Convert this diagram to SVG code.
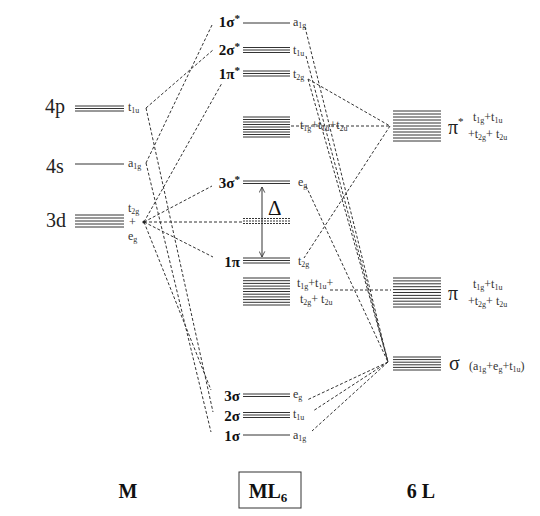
<svg xmlns="http://www.w3.org/2000/svg" width="540" height="516" viewBox="0 0 540 516">
<defs>
<style>
.lv{stroke:#333;stroke-width:1;fill:none}
.dl{stroke:#333;stroke-width:1;fill:none;stroke-dasharray:3,2}
.sm{font-family:"Liberation Serif",serif;font-size:12px;fill:#333}
.sb{font-size:8px}
.bl{font-family:"Liberation Serif",serif;font-size:15px;font-weight:bold;fill:#111;text-anchor:end}
.big{font-family:"Liberation Serif",serif;font-size:20px;fill:#222}
.ttl{font-family:"Liberation Serif",serif;font-size:20px;font-weight:bold;fill:#111;text-anchor:middle}
</style>
<marker id="ah" viewBox="0 0 10 10" refX="9" refY="5" markerWidth="7" markerHeight="7" orient="auto-start-reverse">
<path d="M1,1 L9,5 L1,9" fill="none" stroke="#333" stroke-width="1.2"/>
</marker>
</defs>
<rect width="540" height="516" fill="#fff"/>

<g id="connectors">
<path class="dl" d="M146,108 L213,50"/>
<path class="dl" d="M146,163 L212,25"/>
<path class="dl" d="M144,222 L222,83"/>
<path class="dl" d="M144,222 L212,186"/>
<path class="dl" d="M144,222 L243,222"/>
<path class="dl" d="M144,222 L213,257"/>
<path class="dl" d="M146,108 L213,412"/>
<path class="dl" d="M146,163 L211,432"/>
<path class="dl" d="M144,222 L211,390"/>
<path class="dl" d="M305,27 L388,362"/>
<path class="dl" d="M306,56 L388,362"/>
<path class="dl" d="M308,79 L388,362"/>
<path class="dl" d="M308,79 L390,126"/>
<path class="dl" d="M291,126 L390,126"/>
<path class="dl" d="M306,186 L388,362"/>
<path class="dl" d="M390,126 L304,258"/>
<path class="dl" d="M330,290 L391,290"/>
<path class="dl" d="M388,362 L307,400"/>
<path class="dl" d="M388,362 L313,411"/>
<path class="dl" d="M388,362 L312,431"/>
<line x1="262" y1="187" x2="262" y2="257" stroke="#333" stroke-width="1" marker-start="url(#ah)" marker-end="url(#ah)"/>
</g>

<g id="M">
<text class="big" x="45" y="113">4p</text>
<path class="lv" d="M75,106H124M75,108.5H124M75,111H124"/>
<text class="sm" x="128" y="111">t<tspan class="sb" dy="2">1u</tspan></text>
<text class="big" x="46" y="173">4s</text>
<path class="lv" d="M75,164H124"/>
<text class="sm" x="128" y="167">a<tspan class="sb" dy="2">1g</tspan></text>
<text class="big" x="46" y="227">3d</text>
<path class="lv" d="M75,215H124M75,218H124M75,221H124M75,224H124M75,227H124"/>
<text class="sm" x="128" y="212">t<tspan class="sb" dy="2">2g</tspan></text>
<text class="sm" x="129" y="226">+</text>
<text class="sm" x="128" y="240">e<tspan class="sb" dy="2">g</tspan></text>
<circle cx="144" cy="222" r="1.6" fill="#222"/>
</g>

<g id="ML6">
<text class="bl" x="240" y="27">1σ<tspan font-size="11" dy="-5">*</tspan></text>
<path class="lv" d="M243,23H290"/>
<text class="sm" x="293" y="26">a<tspan class="sb" dy="2">1g</tspan></text>

<text class="bl" x="240" y="55">2σ<tspan font-size="11" dy="-5">*</tspan></text>
<path class="lv" d="M243,47.5H290M243,50H290M243,52.5H290"/>
<text class="sm" x="293" y="54">t<tspan class="sb" dy="2">1u</tspan></text>

<text class="bl" x="240" y="79">1π<tspan font-size="11" dy="-5">*</tspan></text>
<path class="lv" d="M243,71H290M243,73.5H290M243,76H290"/>
<text class="sm" x="293" y="78">t<tspan class="sb" dy="2">2g</tspan></text>

<path class="lv" d="M243,117H290M243,119.5H290M243,122H290M243,124.5H290M243,127H290M243,129.5H290M243,132H290M243,134.5H290M243,137H290"/>
<text class="sm" x="300" y="129">t<tspan class="sb" dy="2">1g</tspan><tspan dy="-2">+t</tspan><tspan class="sb" dy="2">1u</tspan><tspan dy="-2">+t</tspan><tspan class="sb" dy="2">2u</tspan></text>

<text class="bl" x="240" y="188">3σ<tspan font-size="11" dy="-5">*</tspan></text>
<path class="lv" d="M243,181H290M243,183.5H290"/>
<text class="sm" x="298" y="186">e<tspan class="sb" dy="2">g</tspan></text>

<path class="lv" stroke-dasharray="2,1" d="M243,218.5H290M243,221H290M243,223.5H290"/>
<text x="268" y="215" font-family="Liberation Serif, serif" font-size="21" fill="#111">Δ</text>

<text class="bl" x="240" y="267">1π</text>
<path class="lv" d="M243,258H290M243,260.5H290M243,263H290"/>
<text class="sm" x="298" y="265">t<tspan class="sb" dy="2">2g</tspan></text>

<path class="lv" d="M243,278H290M243,280.7H290M243,283.4H290M243,286.1H290M243,288.8H290M243,291.5H290M243,294.2H290M243,296.9H290M243,299.6H290M243,302.3H290M243,305H290"/>
<text class="sm" x="297" y="287">t<tspan class="sb" dy="2">1g</tspan><tspan dy="-2">+t</tspan><tspan class="sb" dy="2">1u</tspan><tspan dy="-2">+</tspan></text>
<text class="sm" x="300" y="303">t<tspan class="sb" dy="2">2g</tspan><tspan dy="-2">+ t</tspan><tspan class="sb" dy="2">2u</tspan></text>

<text class="bl" x="240" y="401">3σ</text>
<path class="lv" d="M243,394H290M243,396.5H290"/>
<text class="sm" x="293" y="398">e<tspan class="sb" dy="2">g</tspan></text>

<text class="bl" x="240" y="421">2σ</text>
<path class="lv" d="M243,412.5H290M243,415H290M243,417.5H290"/>
<text class="sm" x="293" y="418">t<tspan class="sb" dy="2">1u</tspan></text>

<text class="bl" x="240" y="441">1σ</text>
<path class="lv" d="M243,435H290"/>
<text class="sm" x="293" y="439">a<tspan class="sb" dy="2">1g</tspan></text>
</g>

<g id="L">
<path class="lv" d="M393,111H441M393,114H441M393,117H441M393,120H441M393,123H441M393,126H441M393,129H441M393,132H441M393,135H441M393,138H441M393,141H441"/>
<text class="big" x="448" y="134" font-size="21">π<tspan font-size="11" dy="-9">*</tspan></text>
<text class="sm" x="473" y="121">t<tspan class="sb" dy="2">1g</tspan><tspan dy="-2">+t</tspan><tspan class="sb" dy="2">1u</tspan></text>
<text class="sm" x="468" y="138">+t<tspan class="sb" dy="2">2g</tspan><tspan dy="-2">+ t</tspan><tspan class="sb" dy="2">2u</tspan></text>

<path class="lv" d="M393,278H441M393,280.9H441M393,283.8H441M393,286.7H441M393,289.6H441M393,292.5H441M393,295.4H441M393,298.3H441M393,301.2H441M393,304.1H441M393,307H441"/>
<text class="big" x="448" y="300" font-size="21">π</text>
<text class="sm" x="473" y="288">t<tspan class="sb" dy="2">1g</tspan><tspan dy="-2">+t</tspan><tspan class="sb" dy="2">1u</tspan></text>
<text class="sm" x="468" y="305">+t<tspan class="sb" dy="2">2g</tspan><tspan dy="-2">+ t</tspan><tspan class="sb" dy="2">2u</tspan></text>

<path class="lv" d="M393,357H441M393,359.6H441M393,362.2H441M393,364.8H441M393,367.4H441M393,370H441"/>
<text class="big" x="449" y="370" font-size="21">σ</text>
<text class="sm" x="469" y="370">(a<tspan class="sb" dy="2">1g</tspan><tspan dy="-2">+e</tspan><tspan class="sb" dy="2">g</tspan><tspan dy="-2">+t</tspan><tspan class="sb" dy="2">1u</tspan><tspan dy="-2">)</tspan></text>
</g>

<g id="titles">
<text class="ttl" x="128" y="498">M</text>
<rect x="239" y="472" width="62" height="36" fill="none" stroke="#333" stroke-width="1"/>
<text class="ttl" x="268" y="498">ML<tspan font-size="13" dy="4">6</tspan></text>
<text class="ttl" x="421" y="498">6 L</text>
</g>
</svg>
